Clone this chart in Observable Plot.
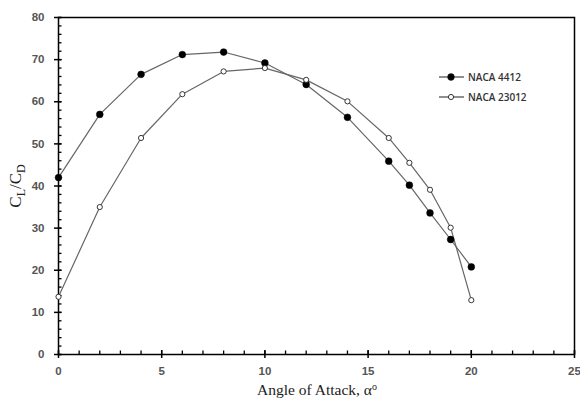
<!DOCTYPE html>
<html>
<head>
<meta charset="utf-8">
<script src="https://cdn.jsdelivr.net/npm/d3@7"></script>
<script src="https://cdn.jsdelivr.net/npm/@observablehq/plot@0.6"></script>
<style>
  html, body { margin: 0; padding: 0; background: #fff; }
  #wrap { position: relative; width: 580px; height: 399px; }
  .legend { position: absolute; left: 439px; font-family: "Open Sans", "Liberation Sans", sans-serif; font-size: 10px; font-weight: 600; color: #333; display: flex; align-items: center; }
  .legend svg { margin-right: 4px; }
</style>
</head>
<body>
<div id="wrap"></div>
<script>
const angles = [0, 2, 4, 6, 8, 10, 12, 14, 16, 17, 18, 19, 20];
const naca4412 = [42.0, 57.0, 66.5, 71.2, 71.8, 69.2, 64.1, 56.3, 45.9, 40.2, 33.6, 27.3, 20.8];
const naca23012 = [13.7, 35.0, 51.4, 61.8, 67.2, 68.0, 65.2, 60.1, 51.4, 45.5, 39.1, 30.1, 12.9];
const seriesNames = ["NACA 4412", "NACA 23012"];
const xMajor = [0, 5, 10, 15, 20, 25];
const xMinor = d3.range(0, 26, 1);
const yMajor = [0, 10, 20, 30, 40, 50, 60, 70, 80];
const yMinor = d3.range(0, 81, 2);

const d4412 = angles.map((a, i) => ({a, v: naca4412[i]}));
const d23012 = angles.map((a, i) => ({a, v: naca23012[i]}));

const tickFont = {fontFamily: "Liberation Sans, Arial, sans-serif", fontSize: 11.5, fontWeight: "bold", fill: "#555"};

const chart = Plot.plot({
  width: 580,
  height: 399,
  marginLeft: 58,
  marginRight: 6,
  marginTop: 17,
  marginBottom: 45,
  style: {fontFamily: "Liberation Sans, Arial, sans-serif", background: "#fff", overflow: "visible"},
  x: {domain: [0, 25]},
  y: {domain: [0, 80]},
  marks: [
    Plot.axisX({ticks: xMinor, tickSize: 3.5, dy: -3.5, text: null, label: null, stroke: "#000", strokeWidth: 1.3}),
    Plot.axisX({ticks: xMajor, tickSize: 4, dy: -4, text: null, label: null, stroke: "#000", strokeWidth: 1.5}),
    Plot.axisX({ticks: xMajor, tickSize: 4, tickPadding: 8, label: null, stroke: "#000", strokeWidth: 1.5, ...tickFont}),
    Plot.axisY({ticks: yMinor, tickSize: 3.5, dx: 3.5, text: null, label: null, stroke: "#000", strokeWidth: 1.3}),
    Plot.axisY({ticks: yMajor, tickSize: 3.5, dx: 3.5, text: null, label: null, stroke: "#000", strokeWidth: 1.5}),
    Plot.axisY({ticks: yMajor, tickSize: 4, tickPadding: 10, label: null, stroke: "#000", strokeWidth: 1.5, ...tickFont}),
    Plot.frame({stroke: "#000", strokeWidth: 1.5}),
    Plot.line(d4412, {x: "a", y: "v", stroke: "#666", strokeWidth: 1.2}),
    Plot.line(d23012, {x: "a", y: "v", stroke: "#666", strokeWidth: 1.2}),
    Plot.dot(d4412, {x: "a", y: "v", r: 3.4, fill: "#000", stroke: "#000", strokeWidth: 0.5}),
    Plot.dot(d23012, {x: "a", y: "v", r: 2.6, fill: "#fff", stroke: "#222", strokeWidth: 0.9})
  ]
});

const wrap = document.getElementById("wrap");
wrap.appendChild(chart);

const svg = d3.select(chart);
// y-axis title with subscripts
const yt = svg.append("text")
  .attr("transform", "translate(21,186) rotate(-90)")
  .attr("text-anchor", "middle")
  .attr("font-family", "Liberation Serif, Times New Roman, serif")
  .attr("font-size", 17)
  .attr("fill", "#222");
yt.append("tspan").text("C");
yt.append("tspan").attr("font-size", 12).attr("dy", 4).text("L");
yt.append("tspan").attr("dy", -4).text("/C");
yt.append("tspan").attr("font-size", 12).attr("dy", 4).text("D");

// x-axis title
const xt = svg.append("text")
  .attr("x", 317).attr("y", 395)
  .attr("text-anchor", "middle")
  .attr("font-family", "Liberation Serif, Times New Roman, serif")
  .attr("font-size", 15.5)
  .attr("fill", "#222");
xt.append("tspan").text("Angle of Attack, α");
xt.append("tspan").attr("font-size", 10).attr("dy", -5).text("o");

// legend
const legendTop = [70, 90];
seriesNames.forEach((name, i) => {
  const div = document.createElement("div");
  div.className = "legend";
  div.style.top = legendTop[i] + "px";
  const filled = i === 0;
  div.innerHTML = `<svg width="25" height="12"><line x1="0" y1="6" x2="25" y2="6" stroke="#444" stroke-width="1.2"/>` +
    `<circle cx="12" cy="6" r="${filled ? 3.4 : 2.6}" fill="${filled ? "#000" : "#fff"}" stroke="#222" stroke-width="${filled ? 0.5 : 0.9}"/></svg><span>${name}</span>`;
  wrap.appendChild(div);
});
</script>
</body>
</html>
